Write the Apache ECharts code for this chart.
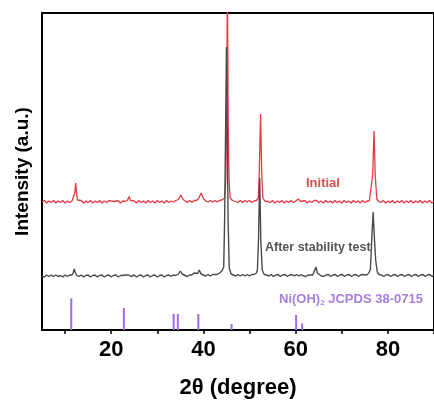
<!DOCTYPE html>
<html>
<head>
<meta charset="utf-8">
<script src="https://cdn.jsdelivr.net/npm/echarts@6/dist/echarts.min.js"></script>
<style>
html,body{margin:0;padding:0;background:#fff;}
#chart{width:434px;height:407px;}
</style>
</head>
<body>
<div id="chart"></div>
<script>
// 2θ (degree), intensity (a.u., arbitrary offset units)
var initialPattern = [
[5,128],[5.5,129.5],[6,127],[6.5,129],[7,127.5],[7.5,129.5],[8,127],[8.5,129],[9,127.5],[9.5,129.5],[10,127],[10.5,129],[11,127.5],[11.5,129],[11.9,130],[12.1,137],[12.3,147],[12.5,137],[12.7,130],[13,128],[13.5,129.5],[14,127],[14.5,129],[15,127.5],[15.5,129.5],[16,127],[16.5,129],[17,127.5],[17.5,129.5],[18,127],[18.5,129],[19,127.5],[19.5,129.5],[20,129],[20.3,130.5],[20.6,128.5],[21,127.5],[21.5,129.5],[22,127],[22.5,129],[23,128.5],[23.5,129.5],[23.9,133.5],[24.2,129.5],[24.5,127.5],[25,129],[25.5,127],[26,129.5],[26.5,127.5],[27,129],[27.5,127],[28,129.5],[28.5,127.5],[29,129],[29.5,127],[30,129.5],[30.5,127.5],[31,129],[31.5,127],[32,129.5],[32.5,127.5],[33,129],[33.5,128],[34,129.5],[34.6,130.5],[35.1,135],[35.6,130.5],[36,128.5],[36.5,127.5],[37,129.5],[37.5,127.5],[38,129.5],[38.5,129.5],[39,132],[39.5,137],[40,131.5],[40.5,129],[41,128],[41.5,129.5],[42,128],[42.5,129.5],[43,128],[43.5,129.5],[44,130],[44.6,132],[44.85,150],[45.0,200],[45.2,340],[45.4,200],[45.55,150],[45.8,132],[46.3,129.5],[47,128.5],[47.5,127.5],[48,129.5],[48.5,127.5],[49,129.5],[49.5,128],[50,129.5],[50.5,127.5],[51,129],[51.5,129.5],[51.9,132],[52.1,155],[52.4,216],[52.65,155],[52.9,132],[53.3,129],[54,128.5],[54.5,127.5],[55,129.5],[55.5,127],[56,129],[56.5,127.5],[57,129.5],[57.5,127],[58,129],[58.5,127.5],[59,129.5],[59.5,127.5],[60,129],[60.6,131],[61.1,128.5],[61.5,127.5],[62,129.5],[62.5,127],[63,129],[63.5,127.5],[64,129.5],[64.5,129.5],[65,127.5],[65.5,129],[66,127],[66.5,129.5],[67,127.5],[67.5,129],[68,127],[68.5,129.5],[69,127.5],[69.5,129],[70,127],[70.5,129.5],[71,127.5],[71.5,129],[72,127],[72.5,129.5],[73,127.5],[73.5,129],[74,127],[74.5,129.5],[75,127.5],[75.5,129],[76,129.5],[76.4,131],[76.7,155],[77.0,199],[77.25,155],[77.6,131],[78,128.5],[78.5,127.5],[79,129.5],[79.5,127],[80,129],[80.5,127.5],[81,129.5],[81.5,127],[82,129],[82.5,127.5],[83,129.5],[83.5,127],[84,129],[84.5,127.5],[85,129.5],[85.5,127],[86,129],[86.5,127.5],[87,129.5],[87.5,127],[88,129],[88.5,127.5],[89,129.5],[89.5,127],[90,128.5]
];
var afterPattern = [
[5,54],[5.5,53],[6,55],[6.5,53.5],[7,55],[7.5,53.5],[8,55],[8.5,53.5],[9,54.5],[9.5,53],[10,55],[10.5,53.5],[11,55],[11.5,55],[11.8,57.5],[12.0,61],[12.2,57.5],[12.5,55],[13,53.5],[13.5,55],[14,53],[14.5,54.5],[15,55],[15.5,53],[16,54.5],[16.5,55],[17,53],[17.5,54.5],[18,55],[18.5,53],[19,54.5],[19.5,55],[20,53],[20.5,54.5],[21,55],[21.5,53],[22,54.5],[22.5,54.5],[23,55],[23.4,56.5],[23.8,55],[24.3,53.5],[25,55],[25.5,53],[26,54.5],[26.5,55],[27,53],[27.5,54.5],[28,55],[28.5,53],[29,54.5],[29.5,55],[30,53],[30.5,54.5],[31,55],[31.5,53],[32,54.5],[32.5,55],[33,53.5],[33.5,55],[34,54.5],[34.6,56],[35.0,59],[35.4,56],[35.8,54.5],[36.5,53.5],[37,55],[37.5,55],[38,57],[38.4,55.5],[38.8,56.5],[39.1,60],[39.5,56],[40,55],[40.5,54],[41,55.5],[41.5,54],[42,55.5],[42.5,55.5],[43,55.5],[43.5,57],[44,59],[44.4,63],[44.6,110],[45.0,283],[45.35,110],[45.6,62],[46,56],[46.5,55],[47,54],[47.5,55.5],[48,54],[48.5,55.5],[49,54],[49.5,55.5],[50,54],[50.5,55.5],[51,55.5],[51.5,57],[51.7,60],[51.95,90],[52.2,152],[52.45,90],[52.75,60],[53.2,55.5],[53.7,55],[54.2,54],[54.7,55.5],[55.2,53.5],[55.7,55],[56.2,55.5],[56.7,53.5],[57.2,55],[57.7,55.5],[58.2,53.5],[58.7,55],[59.2,55.5],[59.7,54],[60.2,55.5],[60.7,54],[61.2,55.5],[61.7,54],[62.2,53.5],[62.7,55],[63.2,55],[63.7,55],[64.1,57],[64.4,63],[64.7,57],[65.1,55],[65.6,54],[66.1,53.5],[66.6,55],[67.1,55.5],[67.6,53.5],[68.1,55],[68.6,55.5],[69.1,53.5],[69.6,55],[70.1,55.5],[70.6,53.5],[71.1,55],[71.6,55.5],[72.1,53.5],[72.6,55],[73.1,55.5],[73.6,53.5],[74.1,55],[74.6,55.5],[75.1,55],[75.6,55.5],[76.2,60],[76.5,90],[76.8,118],[77.1,90],[77.35,70],[77.7,58],[78.1,55.5],[78.6,55],[79.1,53.5],[79.6,55],[80.1,55.5],[80.6,53.5],[81.1,55],[81.6,55.5],[82.1,53.5],[82.6,55],[83.1,55.5],[83.6,53.5],[84.1,55],[84.6,55.5],[85.1,53.5],[85.6,55],[86.1,55.5],[86.6,53.5],[87.1,55],[87.6,55.5],[88.1,53.5],[88.6,55],[89.1,55.5],[89.6,53.5],[90,55]
];
// Ni(OH)2 JCPDS 38-0715 reference lines
var refPositions = [11.35, 22.75, 33.55, 34.45, 38.9, 46.1, 60.1, 61.4];
var refHeights   = [31.6, 22, 16, 16, 16, 6, 15, 6.5];
var xTickValues  = [10, 20, 30, 40, 50, 60, 70, 80, 90];
var xLabelValues = [20, 40, 60, 80];

var refData = refPositions.map(function (p, i) { return [p, refHeights[i]]; });

var chart = echarts.init(document.getElementById('chart'), null, {renderer: 'canvas'});
var FONT = 'Liberation Sans, Arial, sans-serif';
chart.setOption({
  animation: false,
  backgroundColor: '#fff',
  grid: {left: 42, right: -2, top: 13, bottom: 77, show: true, borderColor: '#000', borderWidth: 2, backgroundColor: 'transparent'},
  xAxis: {
    type: 'value', min: 5, max: 90,
    name: '2θ (degree)', nameLocation: 'middle', nameGap: 47,
    nameTextStyle: {fontSize: 22, fontWeight: 'bold', color: '#000', fontFamily: FONT},
    axisLine: {show: true, lineStyle: {color: '#000', width: 2}},
    axisTick: {show: true, inside: false, length: 4, lineStyle: {color: '#000', width: 1.5}, customValues: xTickValues},
    axisLabel: {show: true, fontSize: 22, fontWeight: 'bold', color: '#000', fontFamily: FONT, margin: 9, customValues: xLabelValues},
    splitLine: {show: false}
  },
  yAxis: {
    type: 'value', min: 0, max: 317,
    name: 'Intensity (a.u.)', nameLocation: 'middle', nameGap: 10, nameRotate: 90,
    nameTextStyle: {fontSize: 19, fontWeight: 'bold', color: '#000', fontFamily: FONT},
    axisLine: {show: true, lineStyle: {color: '#000', width: 2}},
    axisTick: {show: false}, axisLabel: {show: false}, splitLine: {show: false}
  },
  series: [
    {type: 'bar', data: refData, barWidth: 2, itemStyle: {color: '#a36be3'}, z: 2},
    {type: 'line', data: initialPattern, showSymbol: false, clip: true, lineStyle: {color: '#e53a40', width: 1.3}, z: 3},
    {type: 'line', data: afterPattern, showSymbol: false, clip: true, lineStyle: {color: '#4a4a4a', width: 1.4}, z: 4}
  ],
  graphic: [
    {type: 'text', left: 306, top: 177, style: {text: 'Initial', fill: '#e05050', font: 'bold 13px ' + FONT}},
    {type: 'text', left: 265, top: 241, style: {text: 'After stability test', fill: '#555', font: 'bold 12.5px ' + FONT}},
    {type: 'text', left: 279, top: 293, style: {
      rich: {n: {fill: '#a67fdc', font: 'bold 13px ' + FONT}, s: {fill: '#a67fdc', font: 'bold 8px ' + FONT, verticalAlign: 'bottom', padding: [6, 0, 0, 0]}},
      text: '{n|Ni(OH)}{s|2}{n| JCPDS 38-0715}'
    }}
  ]
});
</script>
</body>
</html>
